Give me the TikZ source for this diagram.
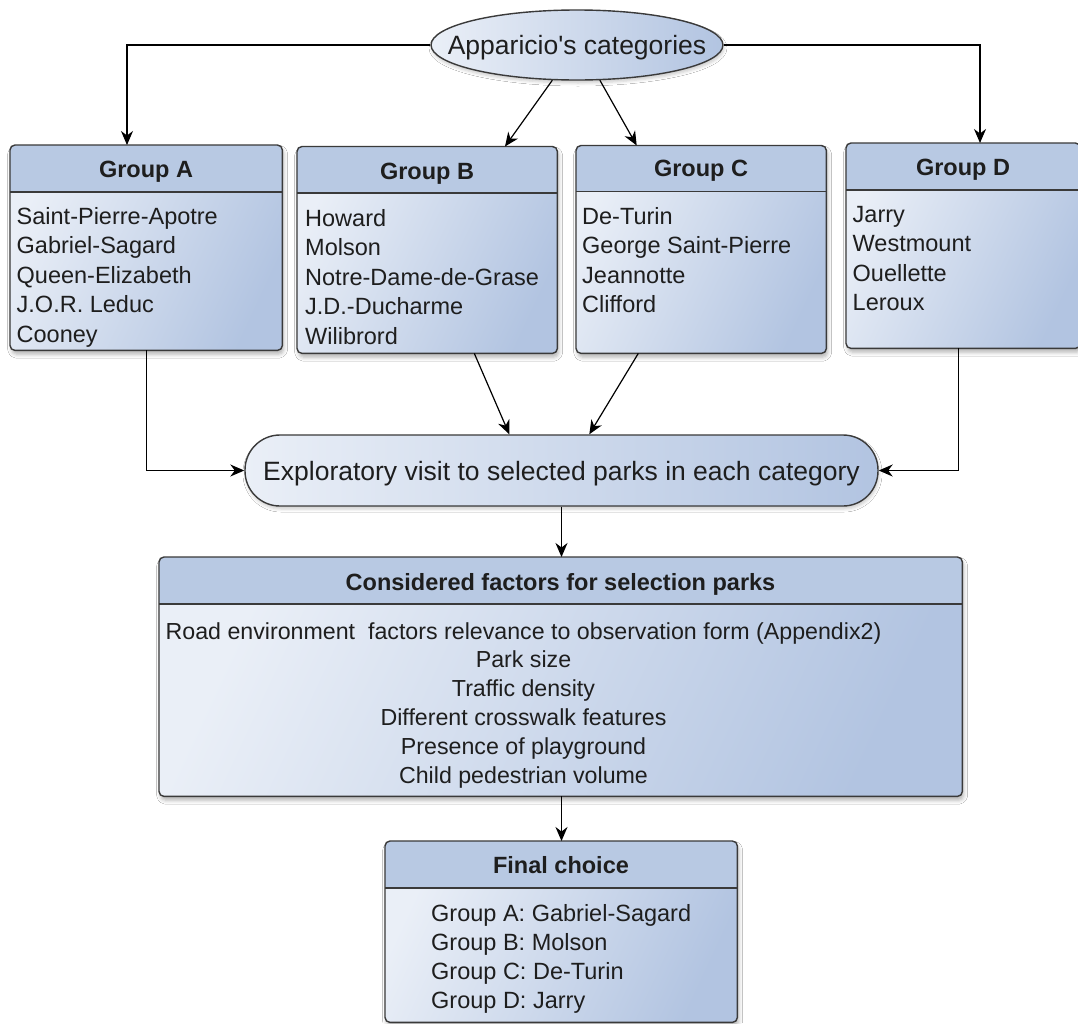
\documentclass[tikz,border=0pt]{standalone}
\usepackage{fontspec}
\setmainfont{Liberation Sans}
\usetikzlibrary{shapes.geometric,arrows.meta,shadows.blur,calc}

\definecolor{headblue}{RGB}{184,201,227}
\definecolor{paleblue}{RGB}{234,239,247}
\definecolor{deepblue}{RGB}{178,196,225}
\definecolor{framegray}{RGB}{58,58,58}
\definecolor{inkgray}{RGB}{30,30,30}

\newcommand\itemfont{\fontsize{23.5}{29.5}\selectfont}
\newcommand\factorfont{\fontsize{23.2}{28.8}\selectfont}
\newcommand\choicefont{\fontsize{23.5}{29}\selectfont}
\newcommand\headfont{\fontsize{23.5}{28}\selectfont\bfseries}
\newcommand\bigfont{\fontsize{26.5}{32}\selectfont}

\tikzset{
  panel/.style={rectangle, rounded corners=5pt, inner sep=0pt, anchor=north west,
    left color=paleblue, right color=deepblue, shading angle=65,
    blur shadow={shadow xshift=1.5pt, shadow yshift=-4pt, shadow blur radius=4pt, shadow opacity=30}},
  frame/.style={draw=framegray, line width=1.4pt, rounded corners=5pt},
  divider/.style={draw=framegray, line width=1.4pt},
  heading/.style={font=\headfont, inner sep=0pt, anchor=base, text=inkgray},
  listing/.style={font=\itemfont, align=left, inner sep=0pt, anchor=north west,
    execute at begin node=\strut, text=inkgray},
  bubble/.style={inner sep=0pt, text depth=0pt, font=\bigfont, text=inkgray,
    left color=paleblue, right color=deepblue, draw=framegray, line width=1.4pt,
    blur shadow={shadow xshift=1pt, shadow yshift=-3pt, shadow blur radius=3pt, shadow opacity=20}},
  link/.style={draw=black, line width=1.2pt},
  arr/.style={link, -{Stealth[length=14pt,width=12pt,inset=4.5pt]}},
}

% header band, divider and outline of a titled panel
\newcommand\headerband[2]{%
  \begin{scope}
    \clip[rounded corners=5pt] (#1.north west) rectangle (#1.south east);
    \fill[headblue] (#1.north west) rectangle ($(#1.north east)+(0,#2)$);
  \end{scope}
  \draw[divider] ($(#1.north west)+(0,#2)$) -- ($(#1.north east)+(0,#2)$);
  \draw[frame] (#1.north west) rectangle (#1.south east);
}

\begin{document}
\begin{tikzpicture}[x=1pt,y=-1pt]
\useasboundingbox (0,0) rectangle (1078,1023);
\fill[white] (0,0) rectangle (1078,1023);

% top category node
\node[bubble, ellipse, inner xsep=-26pt, minimum width=291pt, minimum height=70pt] (cats) at (577,45) {Apparicio\textquotesingle s categories};

% the four groups
\node[panel, minimum width=272pt, minimum height=205pt] (ga) at (10,145) {};
\headerband{ga}{47}
\node[heading] (ga-title) at (146,177.3) {Group A};
\node[listing] (ga-list) at (16.5,207) {Saint-Pierre-Apotre\\Gabriel-Sagard\\Queen-Elizabeth\\J.O.R. Leduc\\Cooney};

\node[panel, minimum width=260pt, minimum height=206.5pt] (gb) at (297,146.5) {};
\headerband{gb}{46.5}
\node[heading] (gb-title) at (427,179) {Group B};
\node[listing] (gb-list) at (305,209) {Howard\\Molson\\Notre-Dame-de-Grase\\J.D.-Ducharme\\Wilibrord};

\node[panel, minimum width=250pt, minimum height=207.5pt] (gc) at (576,145.5) {};
\headerband{gc}{46}
\node[heading] (gc-title) at (701,176.7) {Group C};
\node[listing] (gc-list) at (582,207) {De-Turin\\George Saint-Pierre\\Jeannotte\\Clifford};

\node[panel, minimum width=234pt, minimum height=205pt] (gd) at (846,143) {};
\headerband{gd}{47}
\node[heading] (gd-title) at (963,175) {Group D};
\node[listing] (gd-list) at (852.5,206) {Jarry\\Westmount\\Ouellette\\Leroux};

% exploratory visit
\node[bubble, rectangle, rounded corners=35pt, minimum width=633pt, minimum height=71pt] (visit) at (561.5,470.5) {Exploratory visit to selected parks in each category};

% selection factors
\node[panel, minimum width=803pt, minimum height=239pt] (fa) at (159,557) {};
\headerband{fa}{47}
\node[heading] (fa-title) at (560.5,590) {Considered factors for selection parks};
\node[listing, font=\factorfont, align=center, anchor=north] (fa-list) at (523.5,622) {Road environment\ \ factors relevance to observation form (Appendix2)\\Park size\\Traffic density\\Different crosswalk features\\Presence of playground\\Child pedestrian volume};

% final choice
\node[panel, minimum width=352pt, minimum height=181pt] (fc) at (385,841) {};
\headerband{fc}{47}
\node[heading] (fc-title) at (561,873.3) {Final choice};
\node[listing, font=\choicefont] (fc-list) at (431,904) {Group A: Gabriel-Sagard\\Group B: Molson\\Group C: De-Turin\\Group D: Jarry};

% connectors
\draw[arr] (cats.west) -| ($(ga.north west)+(117,0)$);
\draw[arr] (cats.east) -| ($(gd.north west)+(134,0)$);
\draw[arr] (cats.235) -- ($(gb.north west)+(208,0)$);
\draw[arr] (cats.303) -- ($(gc.north west)+(60.7,0)$);

\draw[arr] (ga.south) |- (visit.west);
\draw[arr] ($(gd.south west)+(112.3,0)$) |- (visit.east);
\draw[arr] ($(gb.south west)+(177.3,0)$) -- ($(visit.north west)+(265,0)$);
\draw[arr] ($(gc.south west)+(62.3,0)$) -- ($(visit.north west)+(345,0)$);

\draw[arr] (visit.south) -- (visit.south |- fa.north);
\draw[arr] (fa.south -| visit.south) -- (visit.south |- fc.north);
\end{tikzpicture}
\end{document}
